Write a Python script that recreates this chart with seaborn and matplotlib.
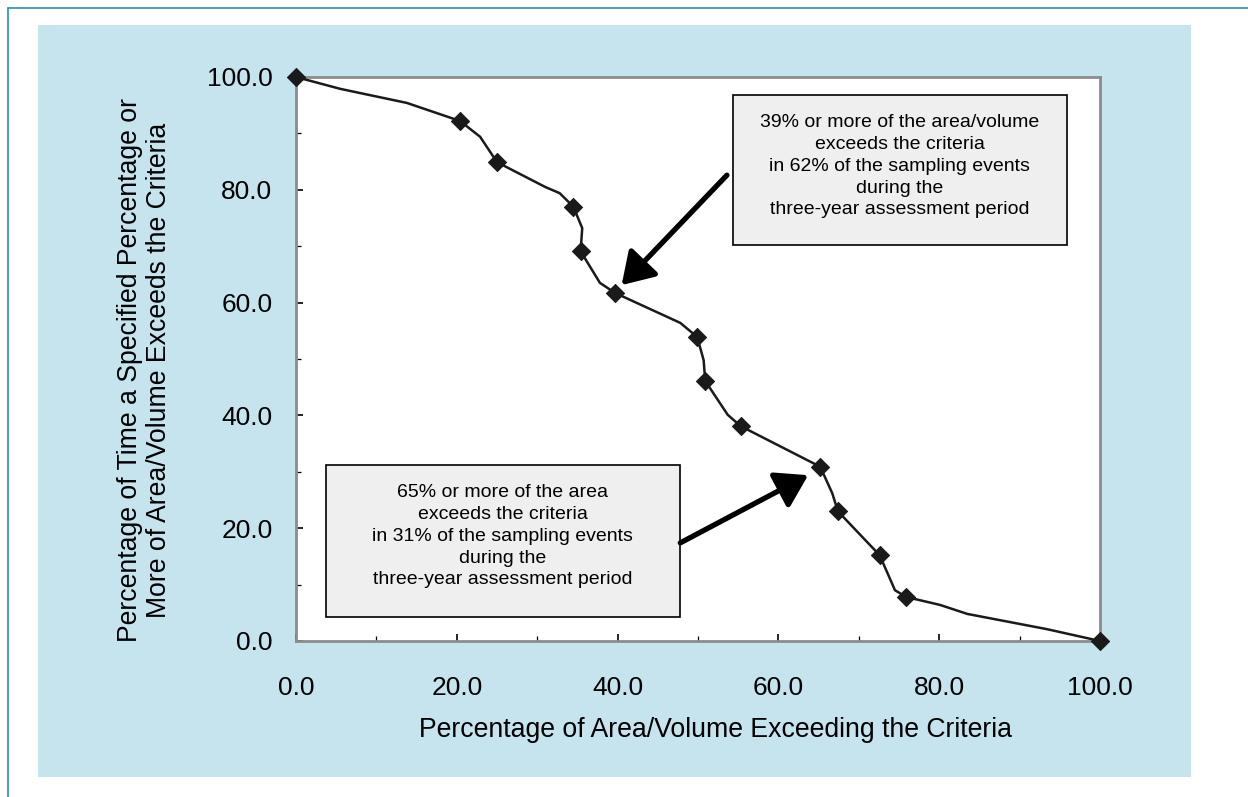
import pandas as pd
import seaborn as sns
import matplotlib.pyplot as plt
from matplotlib.patches import Rectangle
from matplotlib.lines import Line2D

# sampled points (diamonds)
pct_area = [0.0, 20.4, 25.0, 34.5, 35.4, 39.7, 49.9, 50.9, 55.3, 65.2, 67.4, 72.6, 75.9, 100.0]
pct_time = [100.0, 92.2, 84.9, 77.0, 69.1, 61.7, 53.9, 46.1, 38.1, 30.9, 23.0, 15.2, 7.8, 0.0]

# full trace of the curve
trace_area = [0.0, 5.5, 13.8, 20.4, 22.9, 25.0, 31.0, 32.8, 34.5, 35.6, 35.4, 37.8, 39.7,
              47.8, 49.9, 50.7, 50.9, 53.7, 55.3, 65.2, 66.7, 67.4, 72.6, 74.5, 75.9,
              80.1, 83.5, 93.4, 100.0]
trace_time = [100.0, 97.9, 95.4, 92.2, 89.4, 84.9, 80.5, 79.4, 77.0, 73.2, 69.1, 63.5, 61.7,
              56.4, 53.9, 49.8, 46.1, 40.1, 38.1, 30.9, 26.2, 23.0, 15.2, 9.0, 7.8,
              6.4, 4.8, 2.1, 0.0]

ticks = [0, 20, 40, 60, 80, 100]
tick_labels = ["0.0", "20.0", "40.0", "60.0", "80.0", "100.0"]

note1 = ("39% or more of the area/volume\nexceeds the criteria\nin 62% of the sampling events\n"
         "during the\nthree-year assessment period")
note2 = ("65% or more of the area\nexceeds the criteria\nin 31% of the sampling events\n"
         "during the\nthree-year assessment period")

sns.set_style("white")
plt.rcParams['font.family'] = ['Liberation Sans', 'DejaVu Sans']
plt.rcParams['text.color'] = 'black'
plt.rcParams['axes.labelcolor'] = 'black'

W, H = 1248, 797
fig = plt.figure(figsize=(W / 100, H / 100), dpi=100, facecolor="white")

# light blue panel and thin teal frame
fig.patches.append(Rectangle((38 / W, 1 - 777 / H), (1191 - 38) / W, (777 - 25) / H,
                             transform=fig.transFigure, facecolor="#c5e4ee", edgecolor="none", zorder=-5))
fig.lines.append(Line2D([8 / W, 1], [1 - 8 / H, 1 - 8 / H], transform=fig.transFigure,
                        color="#2a8fad", lw=1.2, zorder=-5))
fig.lines.append(Line2D([8 / W, 8 / W], [0, 1 - 8 / H], transform=fig.transFigure,
                        color="#2a8fad", lw=1.2, zorder=-5))

ax = fig.add_axes([296 / W, 1 - 641 / H, (1100 - 296) / W, (641 - 77) / H])
ax.set_zorder(2)
ax.set_facecolor("white")

trace = pd.DataFrame({"x": trace_area, "y": trace_time})
pts = pd.DataFrame({"x": pct_area, "y": pct_time})

sns.lineplot(data=trace, x="x", y="y", sort=False, color="#1a1a1a", lw=1.8, ax=ax, zorder=3)
sns.scatterplot(data=pts, x="x", y="y", marker="D", s=85, color="#1a1a1a", edgecolor="#1a1a1a",
                ax=ax, zorder=4, clip_on=False)

ax.set_xlim(0, 100)
ax.set_ylim(0, 100)
ax.set_xticks(ticks)
ax.set_xticklabels(tick_labels)
ax.set_yticks(ticks)
ax.set_yticklabels(tick_labels)
ax.set_xticks(range(10, 100, 20), minor=True)
ax.set_yticks(range(10, 100, 20), minor=True)
ax.tick_params(which="major", direction="in", length=5, width=1.2, color="black",
               labelsize=19, labelcolor="black")
ax.tick_params(axis="x", which="major", pad=25)
ax.tick_params(axis="y", which="major", pad=17)
ax.tick_params(which="minor", direction="in", length=3.5, width=0.9, color="black")
ax.tick_params(bottom=True, left=True, which="both")

for s in ax.spines.values():
    s.set_color("#8c8c8c")
    s.set_linewidth(2)

ax.set_xlabel("Percentage of Area/Volume Exceeding the Criteria", fontsize=19.2)
ax.xaxis.set_label_coords(0.522, -0.158)
ax.xaxis.label.set_va("center")
ax.set_ylabel("Percentage of Time a Specified Percentage or\nMore of Area/Volume Exceeds the Criteria",
              fontsize=19.2, linespacing=1.15)
ax.yaxis.set_label_coords(-0.189, 0.48)
ax.yaxis.label.set_va("center")

# annotation boxes
ax.add_patch(Rectangle((54.35, 70.2), 95.9 - 54.35, 96.8 - 70.2, facecolor="#efefef",
                       edgecolor="black", lw=1.2, zorder=5))
ax.text(75.1, 84.2, note1, ha="center", va="center", fontsize=14, linespacing=1.38, zorder=6)
ax.add_patch(Rectangle((3.73, 4.26), 47.8 - 3.73, 31.2 - 4.26, facecolor="#efefef",
                       edgecolor="black", lw=1.2, zorder=5))
ax.text(25.7, 18.6, note2, ha="center", va="center", fontsize=14, linespacing=1.38, zorder=6)

arrow = dict(arrowstyle="-|>,head_length=0.95,head_width=0.6", lw=3.8, color="black",
             mutation_scale=20, shrinkA=0, shrinkB=0)
ax.annotate("", xy=(40.5, 63.1), xytext=(53.6, 82.6), arrowprops=arrow, zorder=6)
ax.annotate("", xy=(63.7, 29.4), xytext=(47.8, 17.4), arrowprops=arrow, zorder=6)

plt.savefig("out.png", dpi=100, facecolor="white")
